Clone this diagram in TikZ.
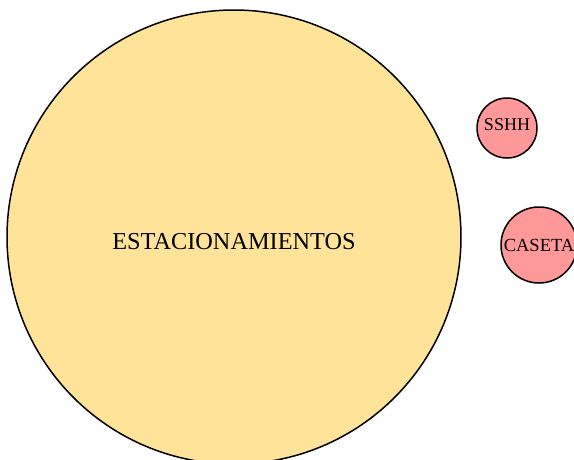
\documentclass[tikz,border=0pt]{standalone}
\usepackage{fontspec}
\setmainfont{Liberation Serif}
\definecolor{ZoneSand}{RGB}{254, 227, 153}
\definecolor{ZoneRose}{RGB}{255, 153, 153}
\usetikzlibrary{positioning}

\begin{document}
\begin{tikzpicture}[
      x=1pt, y=-1pt,
      zone/.style={circle, draw=black, line width=1.5pt, inner sep=0pt},
      bigzone/.style={zone, fill=ZoneSand, minimum size=454pt},
      smallzone/.style={zone, fill=ZoneRose},
      lbl/.style={inner sep=0pt, text=black}
    ]
      % page frame, the large circle runs off the bottom edge
      \clip (0,0) rectangle (574,459);
      \node[bigzone] (park) at (234, 237) {};
      \node[lbl, font=\fontsize{24.3}{26}\selectfont] (parkT) at ([yshift=-5pt]park.center) {ESTACIONAMIENTOS};
      % small service areas
      \node[smallzone, minimum size=60pt] (wc) at (507, 128) {};
      \node[lbl, font=\fontsize{18}{20}\selectfont] (wcT) at ([yshift=3pt]wc.center) {SSHH};
      \node[smallzone, minimum size=76pt] (booth) at (539, 245) {};
      \node[lbl, font=\fontsize{18.5}{20}\selectfont] (boothT) at (booth.center) {CASETA};
    \end{tikzpicture}
\end{document}
